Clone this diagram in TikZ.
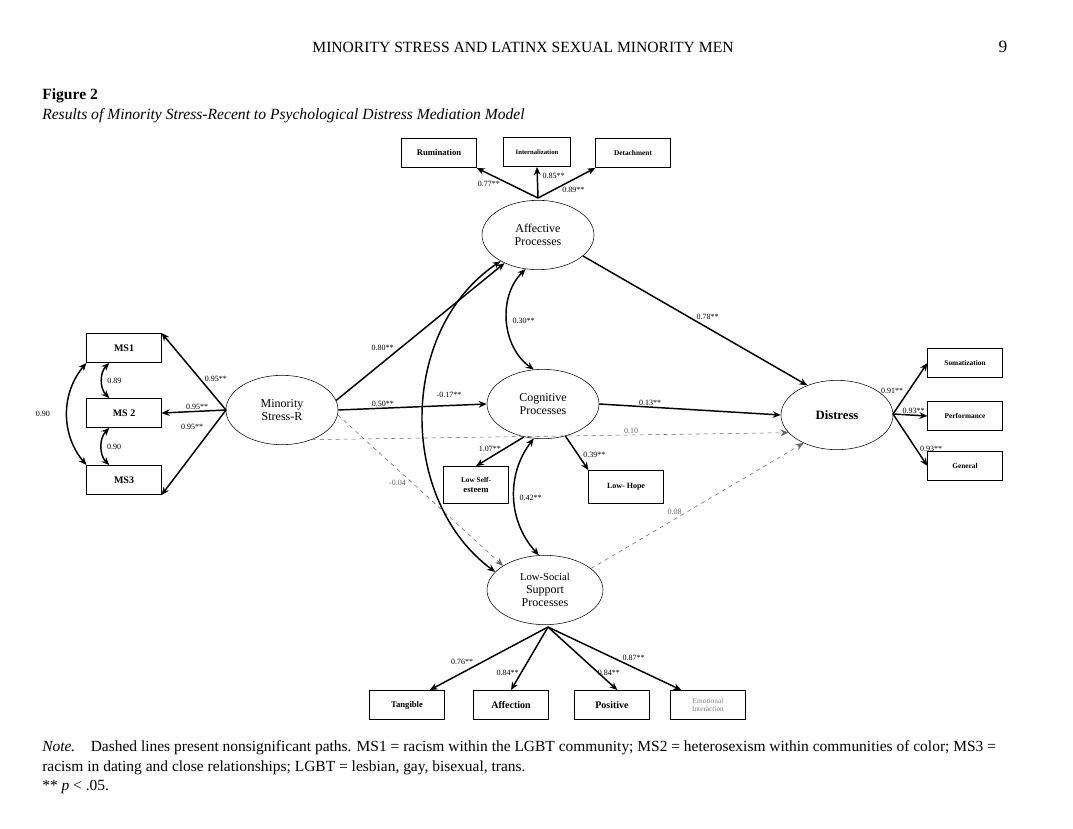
\documentclass[tikz,border=0pt]{standalone}
\usepackage{fontspec}
\setmainfont{Liberation Serif}
\usetikzlibrary{arrows.meta,shapes.geometric}
\tikzset{
  lat/.style={draw, ellipse, minimum width=84pt, minimum height=52pt, align=center, font=\fontsize{9}{10}\selectfont},
  obs/.style={draw, rectangle, minimum width=56pt, minimum height=22pt, align=center, font=\fontsize{6.5}{7}\selectfont\bfseries},
  path/.style={-{Stealth[length=6pt,width=5pt]}, line width=1.1pt},
  ns/.style={-{Stealth[length=6pt,width=5pt]}, dashed, gray!80!black, line width=0.4pt},
  cov/.style={{Stealth[length=6pt,width=5pt]}-{Stealth[length=6pt,width=5pt]}, line width=1.1pt},
  lbl/.style={font=\fontsize{6}{7}\selectfont, inner sep=0.5pt}
}
\begin{document}
\begin{tikzpicture}[x=0.75pt,y=-0.75pt]
\useasboundingbox (0,0) rectangle (1073,828);
% page text
\node[font=\fontsize{11.7}{13}\selectfont] (head) at (523,47) {MINORITY STRESS AND LATINX SEXUAL MINORITY MEN};
\node[font=\fontsize{13}{14}\selectfont] (page) at (1003,47) {9};
\node[anchor=west, font=\fontsize{11.7}{13}\selectfont\bfseries, inner sep=0] (fig) at (42,96) {Figure 2};
\node[anchor=west, font=\fontsize{11.7}{13}\selectfont\itshape, inner sep=0] (title) at (42,116) {Results of Minority Stress-Recent to Psychological Distress Mediation Model};

% latent variables
\node[lat] (msr) at (282,410) {Minority\\Stress-R};
\node[lat] (aff) at (538,235) {Affective\\Processes};
\node[lat] (cog) at (543,404) {Cognitive\\Processes};
\node[lat] (dis) at (837,415) {\fontsize{9.5}{10}\selectfont\bfseries Distress};
\node[lat, minimum width=87pt] (lss) at (545,590) {\fontsize{8}{9}\selectfont Low-Social\\Support\\Processes};

% indicators
\node[obs] (ms1) at (124,348) {\fontsize{7.5}{8}\selectfont MS1};
\node[obs] (ms2) at (124,413) {\fontsize{7.5}{8}\selectfont MS 2};
\node[obs] (ms3) at (124,480) {\fontsize{7.5}{8}\selectfont MS3};
\node[obs] (rum) at (439,153) {Rumination};
\node[obs, minimum width=50pt] (int) at (537,152) {\fontsize{5}{6}\selectfont Internalization};
\node[obs] (det) at (633,153) {\fontsize{5.5}{6}\selectfont Detachment};
\node[obs] (som) at (965,363) {\fontsize{5.5}{6}\selectfont Somatization};
\node[obs] (per) at (965,416) {\fontsize{5.5}{6}\selectfont Performance};
\node[obs] (gen) at (965,466) {\fontsize{5.5}{6}\selectfont General};
\node[obs, minimum width=49pt, minimum height=28pt] (lse) at (476,485) {\fontsize{5.5}{6}\selectfont Low Self-\\esteem};
\node[obs, minimum height=25pt] (hope) at (626,487) {\fontsize{6}{7}\selectfont Low- Hope};
\node[obs] (tan) at (407,705) {Tangible};
\node[obs] (afn) at (511,705) {\fontsize{7.5}{8}\selectfont Affection};
\node[obs] (pos) at (612,705) {\fontsize{7.5}{8}\selectfont Positive};
\node[obs, font=\fontsize{5.5}{6}\selectfont, text=gray] (emo) at (708,705) {Emotional\\Interaction};

% minority stress measurement
\coordinate (msrw) at (226,410);
\draw[path] (msrw) -- (ms1.north east) node[lbl, pos=0.35, above right] {0.95**};
\draw[path] (msrw) -- (ms2.east) node[lbl, pos=0.45, above] {0.95**};
\draw[path] (msrw) -- (ms3.south east) node[lbl, pos=0.25, above left, xshift=-4pt] {0.95**};
\draw[cov] ([xshift=-11pt]ms1.south) to[bend right=45] node[lbl, right=3pt] {0.89} ([xshift=-11pt]ms2.north);
\draw[cov] ([xshift=-11pt]ms2.south) to[bend right=45] node[lbl, right=3pt] {0.90} ([xshift=-11pt]ms3.north);
\draw[cov] (ms1.south west) to[bend right=40] node[lbl, left=12pt] {0.90} (ms3.north west);

% affective indicators
\coordinate (afft) at (538,198);
\draw[path] (afft) -- (rum.south east) node[lbl, pos=0.6, below left] {0.77**};
\draw[path] (afft) -- (int.south) node[lbl, pos=0.7, right=3pt] {0.85**};
\draw[path] (afft) -- (det.south west) node[lbl, pos=0.4, below right] {0.89**};

% structural paths
\draw[path] (msr.10) -- (aff.220) node[lbl, pos=0.35, above left] {0.80**};
\draw[path] (msr.east) -- (cog.west) node[lbl, pos=0.3, above] {0.50**};
\draw[ns] (msr.-45) -- (dis.200) node[lbl, pos=0.67, above] {0.10};
\draw[ns] (msr.-5) -- (lss.150) node[lbl, pos=0.45, left=4pt] {-0.04};
\draw[path] (aff.-25) -- (dis.135) node[lbl, pos=0.5, above right] {0.78**};
\draw[path] (cog.east) -- (dis.west) node[lbl, pos=0.28, above] {0.13**};
\draw[ns] (lss.25) -- (dis.-140) node[lbl, pos=0.45, left=3pt] {0.08};
\draw[cov] (aff.250) to[bend right=50] node[lbl, right=3pt] {0.30**} (cog.105);
\draw[cov] (cog.-105) to[bend right=40] node[lbl, right=3pt] {0.42**} (lss.100);
\draw[cov] (aff.215) .. controls (398,330) and (398,500) .. (lss.160);
\node[lbl] (r17) at (449,395) {-0.17**};

% cognitive indicators
\draw[path] (cog.-120) -- (lse.north) node[lbl, pos=0.4, left=2pt] {1.07**};
\draw[path] (cog.-55) -- (hope.north west) node[lbl, pos=0.55, right=3pt] {0.39**};

% distress indicators
\coordinate (dise) at (893,414);
\draw[path] (dise) -- (som.west) node[lbl, pos=0.45, left=3pt] {0.91**};
\draw[path] (dise) -- (per.west) node[lbl, pos=0.6, above] {0.93**};
\draw[path] (dise) -- (gen.west) node[lbl, pos=0.75, above right] {0.93**};

% social support indicators
\coordinate (lssb) at (548,627);
\draw[path] (lssb) -- ([xshift=17pt]tan.north) node[lbl, pos=0.62, above left] {0.76**};
\draw[path] (lssb) -- (afn.north) node[lbl, pos=0.72, left=1pt] {0.84**};
\draw[path] (lssb) -- ([xshift=4pt]pos.north) node[lbl, pos=0.72, right=-1pt] {0.84**};
\draw[path] (lssb) -- ([xshift=-20pt]emo.north) node[lbl, pos=0.55, above right] {0.87**};

% note
\node[anchor=west, font=\fontsize{11.6}{13}\selectfont, inner sep=0] (note1) at (42,748) {\textit{Note.}\quad Dashed lines present nonsignificant paths. MS1 = racism within the LGBT community; MS2 = heterosexism within communities of color; MS3 =};
\node[anchor=west, font=\fontsize{11.6}{13}\selectfont, inner sep=0] (note2) at (42,768) {racism in dating and close relationships; LGBT = lesbian, gay, bisexual, trans.};
\node[anchor=west, font=\fontsize{11.6}{13}\selectfont, inner sep=0] (note3) at (42,787) {** \textit{p} < .05.};
\end{tikzpicture}
\end{document}
